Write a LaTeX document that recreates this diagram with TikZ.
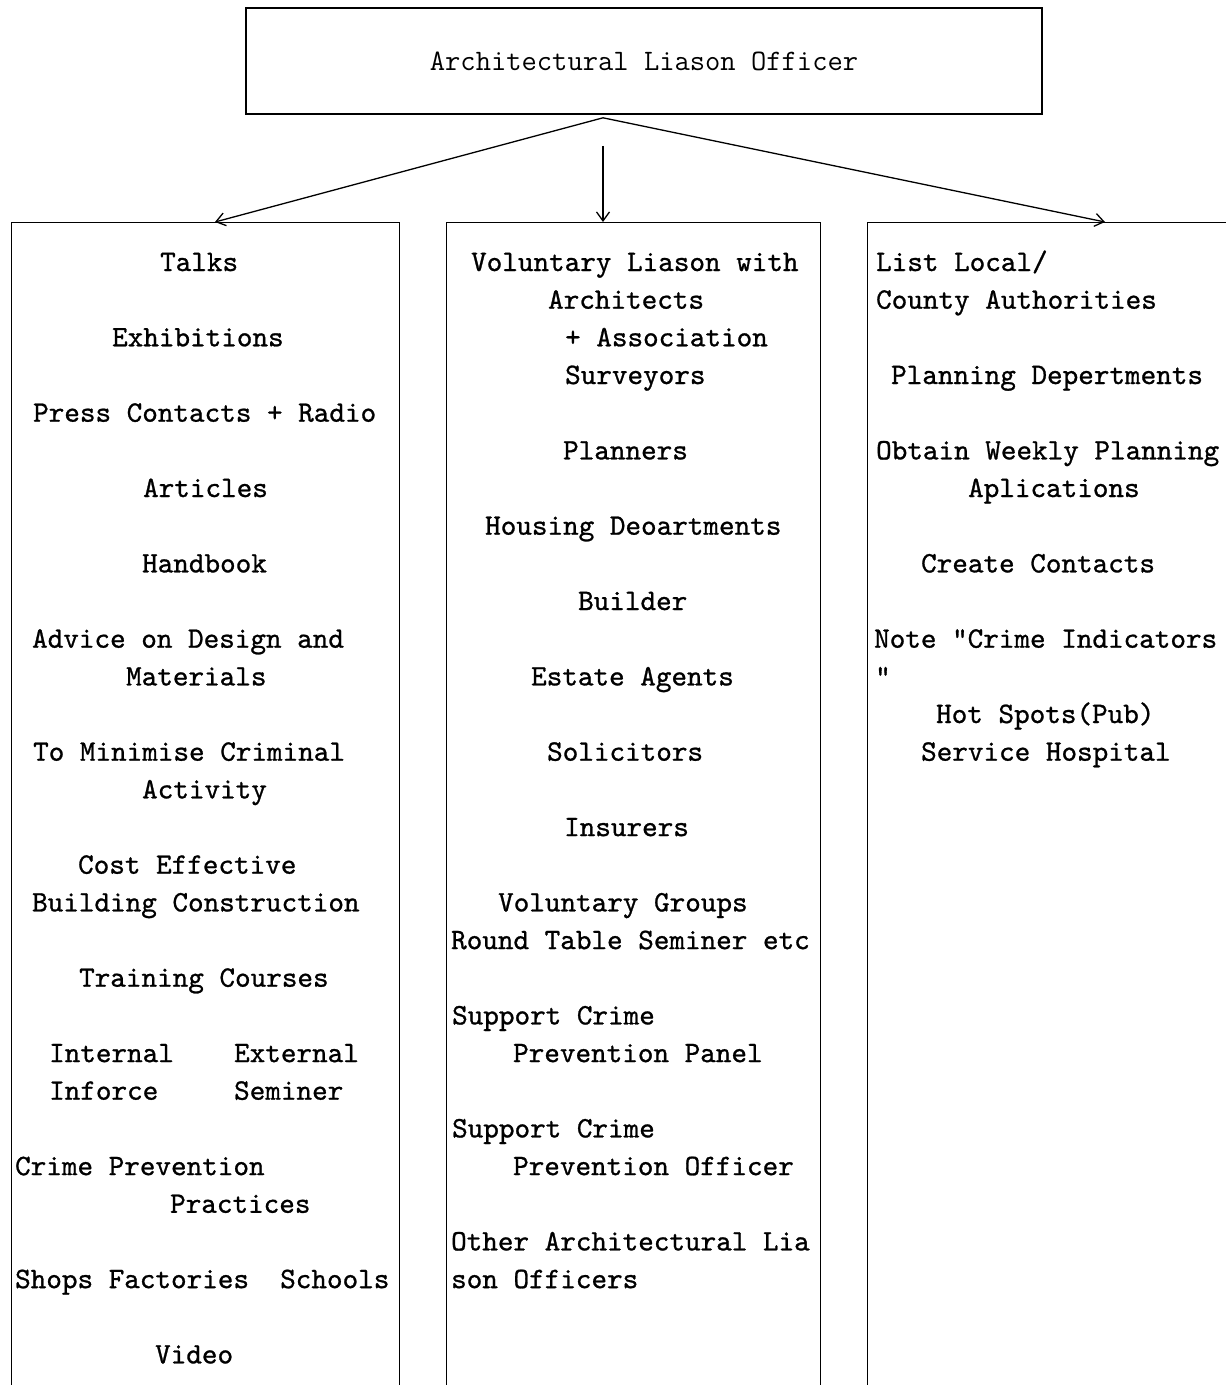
\documentclass[tikz,border=0pt]{standalone}
\usepackage{fontspec}
\usepackage{tikz}
\usetikzlibrary{positioning, arrows.meta, calc}
\newfontfamily\itemfam{lmmono10-regular.otf}[FakeBold=0.9]
\newcommand{\itemfont}{\itemfam\fontsize{29.7}{37.67}\selectfont}
\newcommand{\titlefont}{\ttfamily\fontsize{29.7}{37.67}\selectfont}
\tikzset{%
  every node/.style={font=\itemfont},
  colbox/.style={draw, anchor=north west, minimum height=1300pt, inner sep=0pt}, % open-ended columns, cut by the clip
  item/.style={anchor=base west, inner sep=0pt}
}

\begin{document}
\begin{tikzpicture}[x=1pt, y=-1pt, line width=1.3pt, >={Straight Barb[length=9pt, width=13pt]}]

\useasboundingbox (0,0) rectangle (1226,1385);
\clip (0,0) rectangle (1226,1385);

\node[draw, line width=1.6pt, minimum width=796pt, minimum height=106pt, inner sep=0pt, font=\titlefont] (alo) at (644,61) {Architectural Liason Officer};

\node[colbox, minimum width=388pt] (colL) at (11,222) {};
\node[colbox, minimum width=374pt] (colM) at (446,222) {};
\node[colbox, minimum width=420pt] (colR) at (867,222) {};

\coordinate (fork) at ([xshift=-41pt, yshift=-3pt]alo.south);
\coordinate (midtop) at ([xshift=-41pt, yshift=-31pt]alo.south);
\coordinate (inL) at ([xshift=204pt]colL.north west);
\coordinate (inM) at ([xshift=157pt]colM.north west);
\coordinate (inR) at ([xshift=238pt]colR.north west);

\draw[->] (fork) -- (inL);
\draw[->] (midtop) -- (inM);
\draw[->] (fork) -- (inR);

% left column
\node[item] (talks) at (159.5,271) {Talks};
\node[item] (exhib) at (111.5,346.3) {Exhibitions};
\node[item] (press) at (32.5,421.7) {Press Contacts + Radio};
\node[item] (artic) at (142.5,497.0) {Articles};
\node[item] (handb) at (141.5,572.4) {Handbook};
\node[item] (advice) at (31.5,647.7) {Advice on Design and};
\node[item] (mater) at (125.5,685.4) {Materials};
\node[item] (minim) at (32.5,760.7) {To Minimise Criminal};
\node[item] (activ) at (141.5,798.4) {Activity};
\node[item] (costeff) at (77.5,873.7) {Cost Effective};
\node[item] (buildc) at (31.5,911.4) {Building Construction};
\node[item] (train) at (78.5,986.7) {Training Courses};
\node[item] (intern) at (48.5,1062.1) {Internal};
\node[item] (extern) at (233.5,1062.1) {External};
\node[item] (infor) at (48.5,1099.7) {Inforce};
\node[item] (semin) at (233.5,1099.7) {Seminer};
\node[item] (cpp) at (14.5,1175.1) {Crime Prevention};
\node[item] (pract) at (169.5,1212.8) {Practices};
\node[item] (shops) at (14.5,1288.1) {Shops Factories\ \ Schools};
\node[item] (video) at (154.5,1363.4) {Video};

% middle column
\node[item] (volli) at (470.5,271) {Voluntary Liason with};
\node[item] (archi) at (547.5,308.7) {Architects};
\node[item] (assoc) at (564.5,346.3) {+ Association};
\node[item] (surv) at (564.5,384.0) {Surveyors};
\node[item] (plann) at (562.5,459.4) {Planners};
\node[item] (housing) at (484.5,534.7) {Housing Deoartments};
\node[item] (build) at (577.5,610.0) {Builder};
\node[item] (estate) at (530.5,685.4) {Estate Agents};
\node[item] (solic) at (546.5,760.7) {Solicitors};
\node[item] (insur) at (563.5,836.1) {Insurers};
\node[item] (volgr) at (497.5,911.4) {Voluntary Groups};
\node[item] (round) at (450.5,949.1) {Round Table Seminer etc};
\node[item] (supa) at (451.5,1024.4) {Support Crime};
\node[item] (panel) at (512.5,1062.1) {Prevention Panel};
\node[item] (supb) at (451.5,1137.4) {Support Crime};
\node[item] (offic) at (512.5,1175.1) {Prevention Officer};
\node[item] (othera) at (450.5,1250.4) {Other Architectural Lia};
\node[item] (otherb) at (450.5,1288.1) {son Officers};

% right column
\node[item] (lista) at (875.5,271) {List Local/};
\node[item] (listb) at (875.5,308.7) {County Authorities};
\node[item] (pland) at (890.5,384.0) {Planning Depertments};
\node[item] (obta) at (875.5,459.4) {Obtain Weekly Planning};
\node[item] (obtb) at (967.5,497.0) {Aplications};
\node[item] (creat) at (920.5,572.4) {Create Contacts};
\node[item] (notea) at (873.5,647.7) {Note ”Crime Indicators};
\node[item] (noteb) at (874.5,685.4) {”};
\node[item] (hota) at (935.5,723.0) {Hot Spots(Pub)};
\node[item] (hotb) at (920.5,760.7) {Service Hospital};

\end{tikzpicture}
\end{document}
